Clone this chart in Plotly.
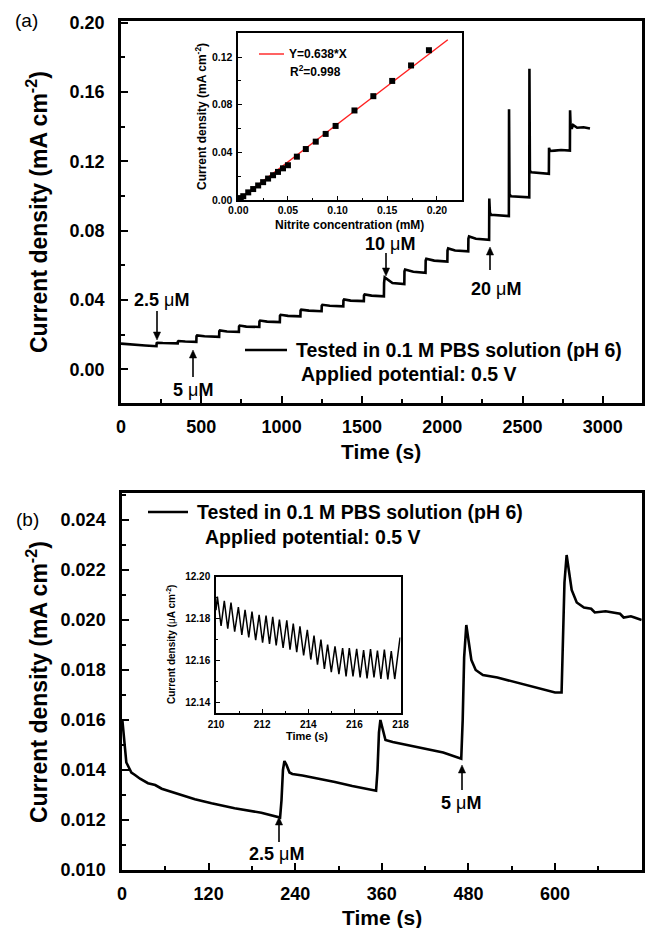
import plotly.graph_objects as go

W, H = 656, 928
FONT = "Liberation Sans, Arial, sans-serif"

# ---------------- data: panel (a) main amperometric curve ----------------
time_a = [0, 30, 60, 100, 150, 200, 221,
          222, 226, 260, 300, 353,
          354, 358, 400, 440, 469,
          470, 474, 520, 570, 611,
          612, 616, 660, 700, 734,
          735, 739, 780, 820, 861,
          862, 866, 910, 950, 989,
          990, 994, 1040, 1080, 1117,
          1118, 1122, 1170, 1210, 1249,
          1250, 1254, 1300, 1340, 1384,
          1385, 1389, 1430, 1470, 1512,
          1513, 1517, 1560, 1600, 1637,
          1638, 1642, 1690, 1730, 1764,
          1765, 1769, 1820, 1860, 1896,
          1897, 1901, 1950, 1990, 2032,
          2033, 2037, 2080, 2120, 2162,
          2163, 2167, 2210, 2250, 2292,
          2293, 2297, 2305, 2350, 2380, 2415,
          2416, 2419, 2428, 2470, 2500, 2542,
          2543, 2546, 2555, 2590, 2630, 2664,
          2665, 2670, 2700, 2740, 2795,
          2796, 2799, 2806, 2815, 2840, 2880, 2920]
current_a = [0.0148, 0.0145, 0.0142, 0.0139, 0.0137, 0.0134, 0.0133,
             0.0150, 0.0153, 0.0151, 0.0150, 0.0149,
             0.0159, 0.0163, 0.0160, 0.0159, 0.0158,
             0.0190, 0.0195, 0.0190, 0.0188, 0.0187,
             0.0219, 0.0224, 0.0218, 0.0217, 0.0216,
             0.0247, 0.0252, 0.0246, 0.0245, 0.0244,
             0.0276, 0.0281, 0.0275, 0.0274, 0.0272,
             0.0309, 0.0314, 0.0308, 0.0306, 0.0305,
             0.0339, 0.0344, 0.0338, 0.0337, 0.0335,
             0.0367, 0.0372, 0.0366, 0.0364, 0.0363,
             0.0397, 0.0403, 0.0396, 0.0394, 0.0393,
             0.0426, 0.0432, 0.0425, 0.0423, 0.0421,
             0.0498, 0.0530, 0.0498, 0.0495, 0.0492,
             0.0565, 0.0575, 0.0563, 0.0560, 0.0557,
             0.0628, 0.0638, 0.0627, 0.0624, 0.0621,
             0.0686, 0.0697, 0.0685, 0.0683, 0.0680,
             0.0754, 0.0766, 0.0753, 0.0750, 0.0747,
             0.0985, 0.0903, 0.0891, 0.0889, 0.0887, 0.0884,
             0.1500, 0.1010, 0.0998, 0.0996, 0.0995, 0.0992,
             0.1735, 0.1145, 0.1137, 0.1134, 0.1131, 0.1128,
             0.1278, 0.1260, 0.1262, 0.1265, 0.1262,
             0.1495, 0.1415, 0.1388, 0.1410, 0.1394, 0.1397, 0.1390]

# ---------------- data: inset of (a) calibration ----------------
conc_mM = [0.0025, 0.005, 0.010, 0.015, 0.020, 0.025, 0.030, 0.035, 0.040,
           0.045, 0.050, 0.059, 0.068, 0.078, 0.088, 0.098, 0.117, 0.136,
           0.155, 0.174, 0.192]
resp_mA = [0.0016, 0.0032, 0.0064, 0.0092, 0.0122, 0.0150, 0.0180, 0.0208,
           0.0236, 0.0266, 0.0292, 0.0364, 0.0428, 0.0490, 0.0555, 0.0622,
           0.0752, 0.0872, 0.1000, 0.1130, 0.1258]
fit_x = [0.0, 0.211]
fit_y = [0.0, 0.1346]
fit_label = "Y=0.638*X"
r2_label = "R<sup>2</sup>=0.998"

# ---------------- data: panel (b) ----------------
time_b = [0.5, 2, 4, 6, 9, 13, 18, 25, 36, 46, 55, 64, 80, 101, 124, 156, 193, 216, 219,
          221, 223, 225, 228, 232, 236, 250, 271, 295, 319, 340, 352,
          354, 356, 358, 361, 365, 375, 395, 420, 445, 470,
          472, 474, 477, 480, 484, 490, 500, 520, 540, 560, 580, 600, 609,
          611, 613, 616, 619, 623, 630, 640, 650, 655, 670, 680, 690, 695, 705, 710, 720]
current_b = [0.0160, 0.0155, 0.0147, 0.0143, 0.01413, 0.0139, 0.0138, 0.01365, 0.01347,
             0.0134, 0.01325, 0.01317, 0.0130, 0.01283, 0.01267, 0.01247, 0.01229,
             0.01211, 0.0121,
             0.0128, 0.0140, 0.01436, 0.0142, 0.0139, 0.01384, 0.01378, 0.01367,
             0.01352, 0.01336, 0.01322, 0.01317,
             0.0140, 0.0155, 0.0160, 0.0156, 0.0152, 0.01512, 0.01500, 0.01485,
             0.0147, 0.01445,
             0.0160, 0.0185, 0.0198, 0.0192, 0.0184, 0.0180, 0.0178, 0.0177,
             0.01755, 0.0174, 0.01725, 0.0171, 0.0171,
             0.0195, 0.0215, 0.0226, 0.0220, 0.0212, 0.0207, 0.0205, 0.02045,
             0.0203, 0.02035, 0.0203, 0.02025, 0.0201, 0.02015, 0.0201, 0.0200]

# ---------------- data: inset of (b) (uA cm-2) ----------------
time_ib = [210.00, 210.06, 210.22, 210.36, 210.51, 210.65, 210.81, 210.97, 211.12,
           211.26, 211.42, 211.56, 211.72, 211.87, 212.02, 212.17, 212.32, 212.46,
           212.61, 212.75, 212.91, 213.07, 213.21, 213.35, 213.50, 213.64, 213.80,
           213.96, 214.11, 214.25, 214.40, 214.55, 214.70, 214.84, 215.00, 215.16,
           215.33, 215.49, 215.64, 215.78, 215.94, 216.10, 216.25, 216.40, 216.55,
           216.70, 216.85, 217.00, 217.15, 217.30, 217.45, 217.60, 217.75, 217.98]
current_ib = [12.184, 12.1905, 12.1765, 12.1885, 12.1752, 12.1877, 12.1738, 12.1855,
              12.1722, 12.1842, 12.1710, 12.1834, 12.1698, 12.1818, 12.1685, 12.1814,
              12.1680, 12.1808, 12.1672, 12.1795, 12.1660, 12.1792, 12.1652, 12.1776,
              12.1640, 12.1763, 12.1625, 12.1747, 12.1605, 12.1719, 12.1580, 12.1700,
              12.1560, 12.1676, 12.1545, 12.1668, 12.1535, 12.1660, 12.1525, 12.1660,
              12.1525, 12.1656, 12.1520, 12.1650, 12.1515, 12.1655, 12.1520, 12.1648,
              12.1512, 12.1652, 12.1510, 12.1645, 12.1512, 12.1710]

legend_text = "Tested in 0.1 M PBS solution (pH 6)"
potential_text = "Applied potential: 0.5 V"


def px(x):
    return x / W


def py(y):
    return 1 - y / H


fig = go.Figure()

fig.add_trace(go.Scatter(x=time_a, y=current_a, mode="lines",
                         line=dict(color="black", width=2.6),
                         xaxis="x", yaxis="y", showlegend=False))
fig.add_trace(go.Scatter(x=fit_x, y=fit_y, mode="lines",
                         line=dict(color="#ff2020", width=1.4),
                         xaxis="x2", yaxis="y2", showlegend=False))
fig.add_trace(go.Scatter(x=conc_mM, y=resp_mA, mode="markers",
                         marker=dict(symbol="square", size=6, color="black"),
                         xaxis="x2", yaxis="y2", showlegend=False, cliponaxis=False))
fig.add_trace(go.Scatter(x=time_b, y=current_b, mode="lines",
                         line=dict(color="black", width=2.6),
                         xaxis="x3", yaxis="y3", showlegend=False))
fig.add_trace(go.Scatter(x=time_ib, y=current_ib, mode="lines",
                         line=dict(color="black", width=1.5),
                         xaxis="x4", yaxis="y4", showlegend=False))


def axis(domain, rng, dtick, minor_dtick, fmt, fsize, lw, tlen, mlen, standoff, anchor, tick0=0):
    return dict(domain=domain, range=rng, anchor=anchor, showline=True, linecolor="black",
                linewidth=lw, mirror=True, ticks="inside", ticklen=tlen, tickwidth=lw * 0.8,
                tickcolor="black", dtick=dtick, tick0=tick0, tickformat=fmt,
                showgrid=False, zeroline=False, automargin=False,
                ticklabelstandoff=standoff,
                tickfont=dict(family=FONT, size=fsize, color="black", weight="bold"),
                minor=dict(ticks="inside", ticklen=mlen, tickwidth=lw * 0.8, tickcolor="black",
                           dtick=minor_dtick, tick0=tick0, showgrid=False))


fig.update_layout(
    width=W, height=H, margin=dict(l=0, r=0, t=0, b=0),
    paper_bgcolor="white", plot_bgcolor="white", showlegend=False,
    xaxis=axis([px(121), px(641.7)], [0, 3242], 500, 250, "d", 18, 2.5, 7, 4, 6, "y"),
    yaxis=axis([py(403), py(21)], [-0.0195, 0.201], 0.04, 0.02, ".2f", 18, 2.5, 7, 4, 10, "x"),
    xaxis2=axis([px(238.3), px(461.7)], [0, 0.225], 0.05, 0.025, ".2f", 10.5, 1.5, 4, 2.5, 0, "y2"),
    yaxis2=axis([py(200), py(33.3)], [0, 0.14], 0.04, 0.02, ".2f", 10.5, 1.5, 4, 2.5, 2, "x2"),
    xaxis3=axis([px(122), px(641.7)], [0, 720], 120, 60, "d", 18, 2.5, 7, 4, 6, "y3"),
    yaxis3=axis([py(870), py(493)], [0.010, 0.02508], 0.002, 0.001, ".3f", 18, 2.5, 7, 4, 10, "x3"),
    xaxis4=axis([px(216), px(400.5)], [210, 218], 2, 1, "d", 10, 1.5, 4, 2.5, 1, "y4", tick0=210),
    yaxis4=axis([py(713), py(576.7)], [12.135, 12.20], 0.02, 0.01, ".2f", 10, 1.5, 4, 2.5, 2, "x4", tick0=12.14),
)

ann = []
shapes = []


def text(x, y, s, size, xanchor="center", angle=0, bold=True):
    ann.append(dict(x=px(x), y=py(y), xref="paper", yref="paper", text=(f"<b>{s}</b>" if bold else s),
                    showarrow=False, xanchor=xanchor, yanchor="middle", textangle=angle,
                    font=dict(family=FONT, size=size, color="black")))


def arrow(x, yhead, ytail):
    d = 1 if ytail > yhead else -1  # direction from head to tail
    hl, hw = 8, 3.6
    base = yhead + d * hl
    shapes.append(dict(type="line", xref="paper", yref="paper", x0=px(x), x1=px(x),
                       y0=py(ytail), y1=py(base), line=dict(color="black", width=1.6)))
    path = (f"M {px(x)},{py(yhead)} L {px(x - hw)},{py(base)} "
            f"L {px(x + hw)},{py(base)} Z")
    shapes.append(dict(type="path", xref="paper", yref="paper", path=path,
                       fillcolor="black", line=dict(color="black", width=0.5)))


def conc(n):
    return f"<b>{n} </b>μ<b>M</b>"


# panel labels
text(26, 20, "(a)", 19, bold=False)
text(27, 519, "(b)", 19, bold=False)

# axis titles
text(37, 212, "Current density (mA cm<sup>-2</sup>)", 23, angle=-90)
text(37, 682, "Current density (mA cm<sup>-2</sup>)", 23, angle=-90)
text(381, 452, "Time (s)", 21)
text(382, 917, "Time (s)", 21)

# legends
text(294, 350, legend_text, 19.5, xanchor="left")
text(299, 374, potential_text, 19.5, xanchor="left")
text(195, 512, legend_text, 19.5, xanchor="left")
text(203, 537, potential_text, 19.5, xanchor="left")

# concentration arrows panel a
arrow(157, 340, 311)
text(161, 300, conc("2.5"), 18, bold=False)
arrow(193, 350, 377)
text(193, 390, conc("5"), 18, bold=False)
arrow(386, 276, 253)
text(390, 244, conc("10"), 18, bold=False)
arrow(490, 247, 270)
text(496, 289, conc("20"), 18, bold=False)

# arrows panel b
arrow(279, 817, 842)
text(276, 854, conc("2.5"), 18, bold=False)
arrow(462, 765, 790)
text(461, 803, conc("5"), 18, bold=False)

# inset (a) texts
text(201, 117, "Current density (mA cm<sup>-2</sup>)", 12, angle=-90)
text(349, 225, "Nitrite concentration (mM)", 12)
text(287, 54, fit_label, 12, xanchor="left")
text(288, 71, r2_label, 12, xanchor="left")

# inset (b) texts
text(171, 645, "Current density (</b>μ<b>A cm<sup>-2</sup>)", 10, angle=-90)
text(307, 736, "Time (s)", 11)

fig.update_layout(annotations=ann)

shapes += [
    dict(type="line", xref="paper", yref="paper", x0=px(245), x1=px(287), y0=py(350), y1=py(350),
         line=dict(color="black", width=2.6)),
    dict(type="line", xref="paper", yref="paper", x0=px(148), x1=px(188), y0=py(512), y1=py(512),
         line=dict(color="black", width=2.6)),
    dict(type="line", xref="paper", yref="paper", x0=px(259), x1=px(284), y0=py(54), y1=py(54),
         line=dict(color="#ff2020", width=1.4)),
]
fig.update_layout(shapes=shapes)

fig.write_html("out.html")
